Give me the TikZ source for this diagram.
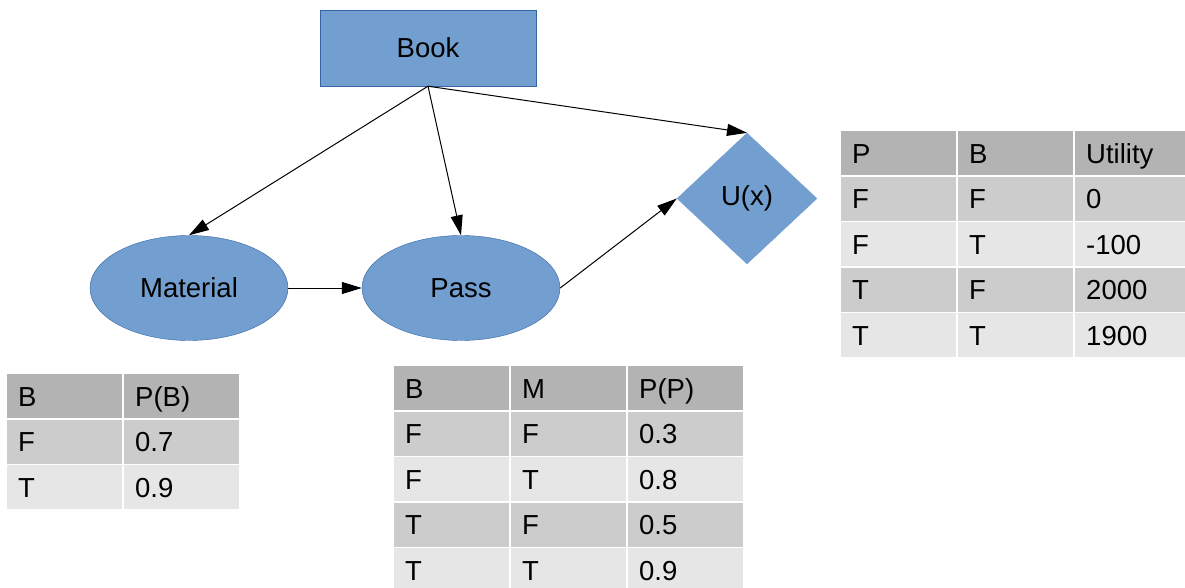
\documentclass[tikz,border=0pt]{standalone}
\usepackage{fontspec}
\setmainfont{Liberation Sans}
\usepackage{tikz}
\usetikzlibrary{arrows.meta, positioning, matrix, shapes.geometric}
\usepackage{xcolor}
\definecolor{nodeblue}{HTML}{729FCF}
\definecolor{nodeedge}{HTML}{3465A4}
\definecolor{headgray}{HTML}{B3B3B3}
\definecolor{rowdark}{HTML}{CCCCCC}
\definecolor{rowlight}{HTML}{E6E6E6}
\tikzset{%
	cpt/.style={
		matrix of nodes,
		inner sep=0pt,
		column sep=2pt,
		row sep=1.5pt,
		nodes={
			minimum height=44pt,
			text width=93pt,
			inner xsep=11pt,
			inner ysep=0pt,
			text height=28pt,
			text depth=8pt,
			align=left
		},
		row 1/.style={nodes={fill=headgray}},
		row 2/.style={nodes={fill=rowdark}},
		row 3/.style={nodes={fill=rowlight}},
		row 4/.style={nodes={fill=rowdark}},
		row 5/.style={nodes={fill=rowlight}}
	},
}
\begin{document}
\begin{tikzpicture}[
			x=1pt, y=-1pt,
			every node/.style={font=\fontsize{27.5}{33}\selectfont},
			decision/.style={rectangle, draw=nodeedge, fill=nodeblue, minimum width=216pt, minimum height=76pt},
			chance/.style={ellipse, draw=nodeedge, fill=nodeblue, minimum width=198pt, minimum height=105pt},
			utility/.style={diamond, draw=nodeblue, fill=nodeblue, inner sep=2pt, minimum width=140pt, minimum height=131pt},
			link/.style={draw, line width=1pt, -{Triangle[length=20pt,width=12pt]}}
			]
			\useasboundingbox (0,0) rectangle (1185,588);
			
			% Nodes of the network
			\node[decision] (B) at (428,48) {Book};
			\node[chance] (M) at (189,288) {Material};
			\node[chance] (P) at (461,288) {Pass};
			\node[utility] (U) at (747,198.5) {U(x)};
			
			\draw[link] (B.south) -- (M.north);
			\draw[link] (B.south) -- (P.north);
			\draw[link] (B.south) -- (U.north);
			\draw[link] (M.east) -- (P.west);
			\draw[link] (P.east) -- (U.west);
			
			% Tables
			\matrix (TB) [cpt, anchor=north west] at (7,374) {
				B & P(B) \\
				F & 0.7 \\
				T & 0.9 \\
			};
			\matrix (TP) [cpt, anchor=north west] at (394,366) {
				B & M & P(P) \\
				F & F & 0.3 \\
				F & T & 0.8 \\
				T & F & 0.5 \\
				T & T & 0.9 \\
			};
			\matrix (TU) [cpt, anchor=north west] at (841,131) {
				P & B & Utility \\
				F & F & 0 \\
				F & T & -100 \\
				T & F & 2000 \\
				T & T & 1900 \\
			};
			
		\end{tikzpicture}
\end{document}
